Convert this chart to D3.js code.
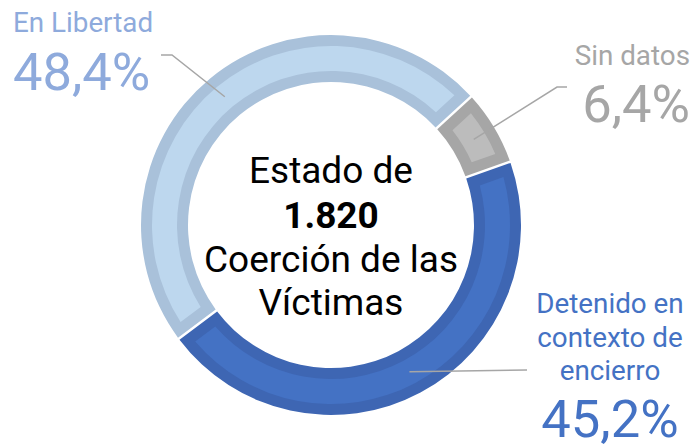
<!DOCTYPE html>
<html>
<head>
<meta charset="utf-8">
<script src="https://cdn.jsdelivr.net/npm/d3@7"></script>
<style>
    body { margin: 0; background: #fff; }
    text { font-family: Roboto, "Noto Sans", sans-serif; }
</style>
</head>
<body>
<div id="chart"></div>
<script>
// slices, in drawing order (clockwise from the upper right)
let categories = ["Sin datos", "Detenido en contexto de encierro", "En Libertad"];
let values = [6.4, 45.2, 48.4];
let valueLabels = ["6,4%", "45,2%", "48,4%"];
let centerLines = ["Estado de", "1.820", "Coerción de las", "Víctimas"];

let width = 696, height = 448;
let cx = 331, cy = 225;
let rOuter = 190, rInner = 143;

let fills = ["#bcbcbc", "#4472c4", "#bdd7ee"];
let borders = ["#a6a6a6", "#3e66b3", "#a9c1da"];
let labelColors = ["#a6a6a6", "#4472c4", "#8eaadc"];

let svg = d3.select("#chart").append("svg")
    .attr("width", width)
    .attr("height", height);

let g = svg.append("g")
    .attr("transform", "translate(" + cx + "," + cy + ")");

let startDeg = 47.5;
let pie = d3.pie()
    .sort(null)
    .startAngle(startDeg * Math.PI / 180)
    .endAngle((startDeg + 360) * Math.PI / 180);

let arcs = pie(values);

// outer (darker) band with a thin white gap between slices
let arcOuter = d3.arc()
    .innerRadius(rInner)
    .outerRadius(rOuter)
    .padRadius(100)
    .padAngle(0.025);

// lighter inner fill, inset on every side
let arcFill = d3.arc()
    .innerRadius(rInner + 11)
    .outerRadius(rOuter - 11)
    .padRadius(100)
    .padAngle(0.245);

g.selectAll(".slice-border")
    .data(arcs)
    .enter().append("path")
    .attr("class", "slice-border")
    .attr("d", arcOuter)
    .attr("fill", (d, i) => borders[i]);

g.selectAll(".slice-fill")
    .data(arcs)
    .enter().append("path")
    .attr("class", "slice-fill")
    .attr("d", arcFill)
    .attr("fill", (d, i) => fills[i]);

// label placement (hand laid out, as in the original)
let labelLayout = [
    {x: 690, anchor: "end", nameY: [65], valueY: 122, elbow: [557, 87], end: [567, 87]},
    {x: 610, anchor: "middle", nameY: [313, 347, 380], valueY: 437, elbow: null, end: [527, 370]},
    {x: 13, anchor: "start", nameY: [32], valueY: 90, elbow: [172, 55], end: [161, 55]}
];
let nameLines = [["Sin datos"], ["Detenido en", "contexto de", "encierro"], ["En Libertad"]];

let mid = d3.arc().innerRadius((rInner + rOuter) / 2).outerRadius((rInner + rOuter) / 2);

arcs.forEach(function(d, i) {
    let c = mid.centroid(d);
    let p0 = [cx + c[0], cy + c[1]];
    let L = labelLayout[i];
    let pts = [p0];
    if (L.elbow) pts.push(L.elbow);
    pts.push(L.end);

    svg.append("path")
        .attr("d", d3.line()(pts))
        .attr("fill", "none")
        .attr("stroke", "#a6a6a6")
        .attr("stroke-width", 1.5);

    nameLines[i].forEach(function(t, j) {
        svg.append("text")
            .attr("x", L.x)
            .attr("y", L.nameY[j])
            .attr("text-anchor", L.anchor)
            .attr("fill", labelColors[i])
            .attr("font-size", 27.8)
            .text(t);
    });

    svg.append("text")
        .attr("x", L.x)
        .attr("y", L.valueY)
        .attr("text-anchor", L.anchor)
        .attr("fill", labelColors[i])
        .attr("font-size", 52.5)
        .text(valueLabels[i]);
});

// center text
let centerY = [183, 228, 272, 315];
centerLines.forEach(function(t, j) {
    svg.append("text")
        .attr("x", cx)
        .attr("y", centerY[j])
        .attr("text-anchor", "middle")
        .attr("fill", "#000")
        .attr("font-size", 37)
        .attr("font-weight", j === 1 ? "bold" : "normal")
        .text(t);
});
</script>
</body>
</html>
